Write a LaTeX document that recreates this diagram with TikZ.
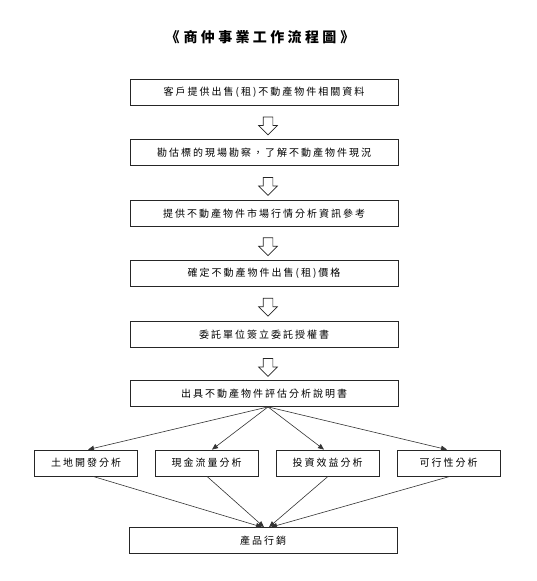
\documentclass[tikz,border=0pt]{standalone}
\usepackage{fontspec}
\usetikzlibrary{arrows.meta,shapes.arrows,calc}
\newfontfamily\cjk[LetterSpace=20]{Noto Sans CJK TC}
\newfontfamily\cjktitle[LetterSpace=24]{Noto Sans CJK TC}
\begin{document}
\begin{tikzpicture}[x=1pt,y=-1pt,
  box/.style={draw=black!85,line width=0.8pt,minimum height=26pt,inner sep=0pt,
    font=\cjk\fontsize{10pt}{12pt}\selectfont},
  wide/.style={box,minimum width=268pt},
  small/.style={box,minimum width=103pt},
  hollow/.style={single arrow,draw=black!85,line width=0.7pt,rotate=-90,
    minimum height=18pt,inner sep=4.5pt,single arrow head extend=4.5pt,
    single arrow head indent=0pt},
  link/.style={draw=black!80,line width=0.6pt,-{Triangle[length=6pt,width=5pt]}}]
\useasboundingbox[fill=white] (0,0) rectangle (536,581);
\node[font=\cjktitle\bfseries\fontsize{14pt}{16pt}\selectfont] (title) at (260,37) {《\;商仲事業工作流程圖\;》};
\node[wide] (b1) at (264,92.5) {客戶提供出售(租)不動產物件相關資料};
\node[wide] (b2) at (264,152.5) {勘估標的現場勘察，了解不動產物件現況};
\node[wide] (b3) at (264,213.5) {提供不動產物件市場行情分析資訊參考};
\node[wide] (b4) at (264,273) {確定不動產物件出售(租)價格};
\node[wide] (b5) at (264,334.5) {委託單位簽立委託授權書};
\node[wide] (b6) at (264,393.5) {出具不動產物件評估分析說明書};
\node[small] (A) at (86,463) {土地開發分析};
\node[small] (B) at (206.5,463) {現金流量分析};
\node[small] (C) at (327.5,463) {投資效益分析};
\node[small] (D) at (448.5,463) {可行性分析};
\node[wide] (E) at (263,540.5) {產品行銷};
\foreach \u/\v in {b1/b2,b2/b3,b3/b4,b4/b5,b5/b6}
  \node[hollow] (arr\u) at ($($(\u.south)!0.5!(\v.north)$)+(4,1)$) {};
\draw[link] ([xshift=4pt]b6.south) -- ([xshift=2pt]A.north);
\draw[link] ([xshift=4pt]b6.south) -- ([xshift=5.5pt]B.north);
\draw[link] ([xshift=4pt]b6.south) -- ([xshift=-3.5pt]C.north);
\draw[link] ([xshift=4pt]b6.south) -- ([xshift=-1.5pt]D.north);
\draw[link] ([xshift=7pt]A.south) -- ([xshift=-1pt]E.north);
\draw[link] ([xshift=0.5pt]B.south) -- ([xshift=1pt]E.north);
\draw[link] ([xshift=0.5pt]C.south) -- ([xshift=6pt]E.north);
\draw[link] ([xshift=1.5pt]D.south) -- ([xshift=8pt]E.north);
\end{tikzpicture}
\end{document}
